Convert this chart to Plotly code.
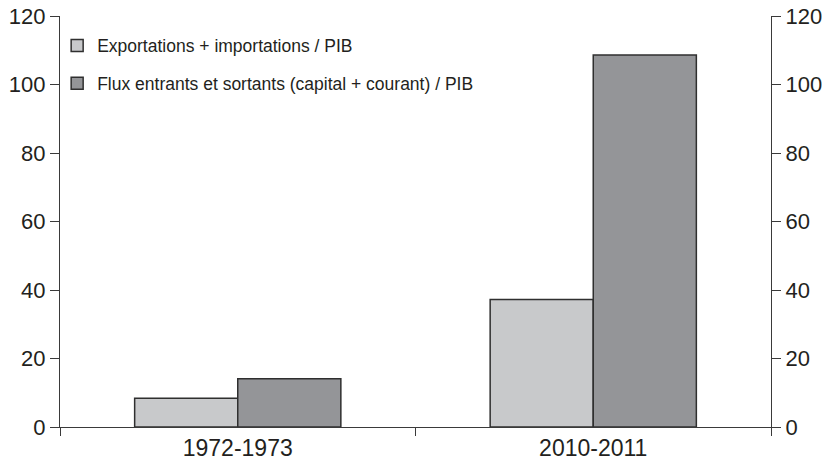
import plotly.graph_objects as go

categories = ["1972-1973", "2010-2011"]
series_names = ["Exportations + importations / PIB",
                "Flux entrants et sortants (capital + courant) / PIB"]
trade_values = [8.4, 37.2]
flows_values = [14.1, 108.6]
y_ticks = [0, 20, 40, 60, 80, 100, 120]

colors = ["#c8c9cb", "#949598"]
axis_color = "#3a3a3a"
text_color = "#231f20"

fig = go.Figure()
for name, vals, col, grp in zip(series_names, [trade_values, flows_values], colors, ["a", "b"]):
    fig.add_trace(go.Bar(
        x=categories, y=vals, name=name, legendgroup=grp,
        marker=dict(color=col, line=dict(color="#2f2f2f", width=1.5)),
    ))
# invisible helper trace so the right-hand axis is drawn
fig.add_trace(go.Scatter(
    x=categories, y=flows_values, yaxis="y2", mode="markers",
    marker=dict(opacity=0), showlegend=False, hoverinfo="skip",
))

yaxis_common = dict(
    range=[0, 120], tickvals=y_ticks, showline=True, linecolor=axis_color, linewidth=1.2,
    ticks="outside", ticklen=9, tickcolor=axis_color, tickwidth=1.2, showgrid=False,
    zeroline=False, tickfont=dict(size=22), automargin=False, ticklabeloverflow="allow",
)

# the page body adds an 8px offset, so margins compensate for it
fig.update_layout(
    width=832, height=462,
    margin=dict(l=52, r=69, t=8, b=43),
    paper_bgcolor="white", plot_bgcolor="white",
    barmode="group", bargap=0.42, bargroupgap=0,
    font=dict(family="Liberation Sans, Arial, sans-serif", color=text_color, size=22),
    showlegend=True,
    legend=dict(x=-0.004, y=0.972, xanchor="left", yanchor="top",
                font=dict(size=17.5, color=text_color),
                bgcolor="rgba(0,0,0,0)", tracegroupgap=12,
                itemwidth=30),
    xaxis=dict(
        showline=True, linecolor=axis_color, linewidth=1.2,
        ticks="outside", tickson="boundaries", ticklen=8, tickcolor=axis_color, tickwidth=1.2,
        tickfont=dict(size=23), showgrid=False, automargin=False, ticklabeloverflow="allow",
    ),
    yaxis=dict(**yaxis_common),
    yaxis2=dict(overlaying="y", side="right", **yaxis_common),
)

fig.write_html("out.html")
